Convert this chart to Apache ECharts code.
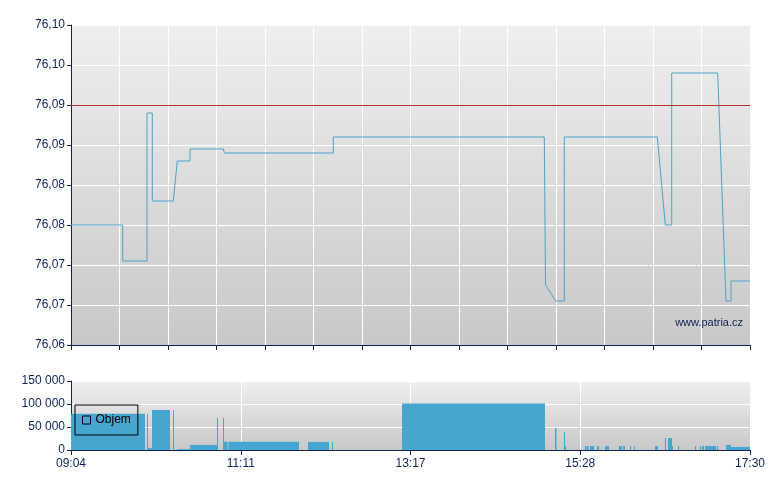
<!DOCTYPE html>
<html><head><meta charset="utf-8">
<script src="https://cdn.jsdelivr.net/npm/echarts@6/dist/echarts.min.js"></script>
<style>html,body{margin:0;padding:0;background:#fff}#c{width:780px;height:490px}</style>
</head><body><div id="c"></div>
<script>
// x positions are in grid units (14 units span 09:04 .. 17:30)
const priceX = [0,1.066,1.066,1.567,1.567,1.676,1.676,2.109,2.192,2.454,2.454,3.140,3.165,5.408,5.408,9.759,9.784,9.994,10.171,10.171,12.089,12.254,12.386,12.386,13.334,13.505,13.608,13.608,14];
const priceY = [76.075,76.075,76.0705,76.0705,76.089,76.089,76.078,76.078,76.083,76.083,76.0845,76.0845,76.084,76.084,76.086,76.086,76.0675,76.0655,76.0655,76.086,76.086,76.075,76.075,76.094,76.094,76.0655,76.0655,76.068,76.068];
const refLevel = 76.088;
const priceTickLabels = ["76,06","76,07","76,07","76,08","76,08","76,09","76,09","76,10","76,10"];
const timeLabels = ["09:04","11:11","13:17","15:28","17:30"];
const volStart = [0,1.567,1.588,1.670,2.103,2.186,2.454,3.010,3.134,3.155,3.243,4.887,5.381,6.825,9.979,10.165,10.186,10.598,10.625,10.701,10.845,11.010,11.299,11.381,11.526,11.608,12.041,12.247,12.309,12.392,12.515,12.866,12.969,13.010,13.072,13.320,13.505,13.608];
const volEnd   = [1.526,1.588,1.670,2.041,2.124,2.454,3.010,3.031,3.155,3.227,4.701,5.320,5.402,9.773,10.010,10.186,10.206,10.619,10.674,10.784,10.887,11.093,11.361,11.423,11.546,11.629,12.103,12.268,12.392,12.412,12.536,12.887,12.990,13.052,13.299,13.340,13.608,14];
const volValue = [79000,79000,4000,87000,87000,2000,11000,70000,70000,18000,18000,17500,17500,101000,48000,39000,8500,8500,8500,8500,8500,8500,8500,8500,8500,8500,8500,26000,26000,8500,8500,8500,8500,8500,8500,8500,11000,6500];

const navy = '#0c2458';
const lineColor = '#4ba3cc';
const barColor = '#46a6cf';
const font = 'Liberation Sans, Arial, sans-serif';
const bg = () => new echarts.graphic.LinearGradient(0,0,0,1,[{offset:0,color:'#efefef'},{offset:1,color:'#c8c8c8'}]);

const chart = echarts.init(document.getElementById('c'), null, {renderer:'canvas'});
const priceData = priceX.map((x,i)=>[x, priceY[i]]);
const volData = volStart.map((s,i)=>[s, volEnd[i], volValue[i]]);

chart.setOption({
  animation:false,
  backgroundColor:'#fff',
  textStyle:{fontFamily:font},
  grid:[
    {left:71, right:30, top:25, height:320, show:true, backgroundColor:bg(), borderWidth:0},
    {left:71, right:30, top:381, height:69, show:true, backgroundColor:bg(), borderWidth:0}
  ],
  xAxis:[
    {type:'value', gridIndex:0, min:0, max:14, interval:1,
     axisLine:{show:true, onZero:false, lineStyle:{color:navy, width:1}},
     axisTick:{show:true, length:5, lineStyle:{color:navy}},
     axisLabel:{show:false},
     splitLine:{show:true, lineStyle:{color:'#ffffff', width:1}}},
    {type:'value', gridIndex:1, min:0, max:14, interval:3.5,
     axisLine:{show:true, onZero:false, lineStyle:{color:navy, width:1}},
     axisTick:{show:true, length:5, lineStyle:{color:navy}},
     axisLabel:{show:true, color:navy, fontSize:12, fontFamily:font, margin:8,
       formatter:(v)=>timeLabels[Math.round(v/3.5)]},
     splitLine:{show:true, lineStyle:{color:'#ffffff', width:1}}}
  ],
  yAxis:[
    {type:'value', gridIndex:0, min:76.06, max:76.10, interval:0.005,
     axisLine:{show:true, lineStyle:{color:navy, width:1}},
     axisTick:{show:true, length:4, lineStyle:{color:navy}},
     axisLabel:{color:navy, fontSize:12, fontFamily:font, margin:6,
       formatter:(v)=>priceTickLabels[Math.round((v-76.06)/0.005)]},
     splitLine:{show:true, lineStyle:{color:'#ffffff', width:1}}},
    {type:'value', gridIndex:1, min:0, max:150000, interval:50000,
     axisLine:{show:true, lineStyle:{color:navy, width:1}},
     axisTick:{show:true, length:4, lineStyle:{color:navy}},
     axisLabel:{color:navy, fontSize:12, fontFamily:font, margin:6,
       formatter:(v)=>String(v).replace(/\B(?=(\d{3})+(?!\d))/g,' ')},
     splitLine:{show:true, lineStyle:{color:'#ffffff', width:1}}}
  ],
  legend:{
    left:75, top:405, orient:'horizontal',
    padding:[9,7], itemGap:4, itemWidth:8, itemHeight:8,
    borderColor:'#000', borderWidth:1, borderRadius:0, backgroundColor:'transparent',
    textStyle:{color:'#000', fontSize:12, fontFamily:font},
    data:[{name:'Objem', icon:'rect', itemStyle:{color:'transparent', borderColor:'#000', borderWidth:1}}]
  },
  graphic:[
    {type:'text', right:37, top:317, style:{text:'www.patria.cz', fill:navy, font:'11px '+font}}
  ],
  series:[
    {name:'Cena', type:'line', xAxisIndex:0, yAxisIndex:0, data:priceData,
     symbol:'none', lineStyle:{color:lineColor, width:1}, itemStyle:{color:lineColor},
     markLine:{silent:true, symbol:['none','none'], label:{show:false},
       lineStyle:{color:'#b83232', width:1, type:'solid'},
       data:[{yAxis:refLevel}]}},
    {name:'Objem', type:'custom', xAxisIndex:1, yAxisIndex:1, data:volData,
     encode:{x:[0,1], y:2},
     itemStyle:{color:barColor},
     renderItem:function(params, api){
       const s = api.coord([api.value(0), api.value(2)]);
       const e = api.coord([api.value(1), 0]);
       return {type:'rect', shape:{x:s[0], y:s[1], width:Math.max(e[0]-s[0],1), height:e[1]-s[1]},
               style:{fill:barColor}};
     }}
  ]
});
</script></body></html>
